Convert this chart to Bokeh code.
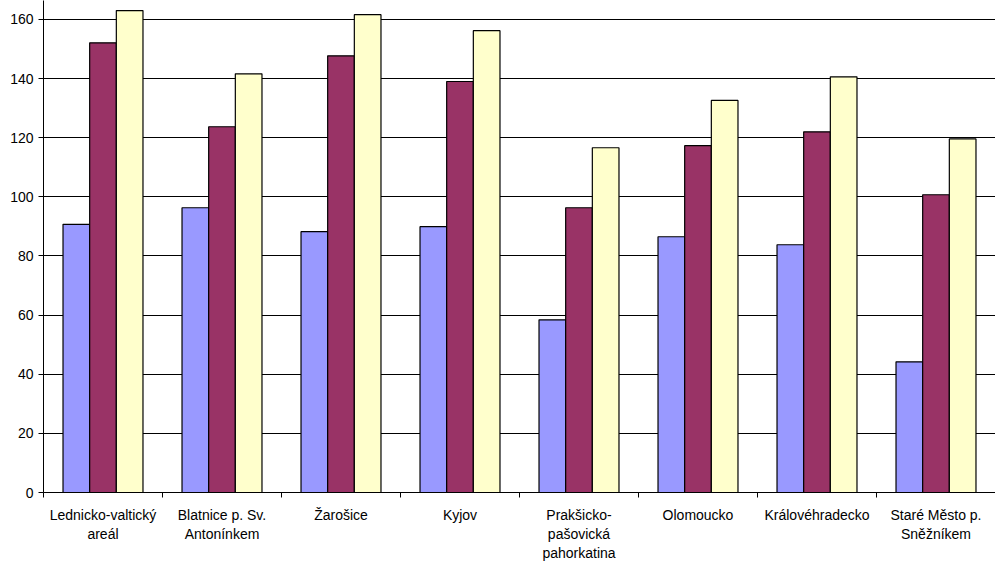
from bokeh.plotting import figure
from bokeh.models import ColumnDataSource, FixedTicker, Range1d
from bokeh.embed import file_html
from bokeh.resources import INLINE

categories = ["Lednicko-valtický\nareál", "Blatnice p. Sv.\nAntonínkem", "Žarošice", "Kyjov",
              "Prakšicko-\npašovická\npahorkatina", "Olomoucko", "Královéhradecko",
              "Staré Město p.\nSněžníkem"]
series1 = [90.7, 96.3, 88.2, 89.9, 58.4, 86.5, 83.8, 44.2]
series2 = [152.1, 123.7, 147.7, 139.0, 96.3, 117.3, 122.0, 100.7]
series3 = [163.0, 141.6, 161.6, 156.2, 116.6, 132.6, 140.6, 119.6]
colors = ["#9999FF", "#993366", "#FFFFCC"]
y_ticks = [0, 20, 40, 60, 80, 100, 120, 140, 160]

n = len(categories)
p = figure(width=995, height=567, output_backend="svg", toolbar_location=None,
           x_range=Range1d(0, n), y_range=Range1d(0, 166.4),
           min_border_left=43, min_border_right=0, min_border_top=0, min_border_bottom=75)
p.outline_line_color = None
p.background_fill_color = "white"
p.border_fill_color = "white"

bw = 0.224
for k, (vals, c) in enumerate(zip([series1, series2, series3], colors)):
    xs = [i + 0.5 + (k - 1) * bw for i in range(n)]
    src = ColumnDataSource(dict(x=xs, top=vals))
    p.vbar(x="x", top="top", bottom=0, width=bw, source=src, fill_color=c,
           line_color="black", line_width=1.2)

p.xgrid.visible = False
p.ygrid.grid_line_color = "black"
p.ygrid.grid_line_width = 1
p.ygrid.ticker = FixedTicker(ticks=y_ticks[1:])

ya = p.yaxis[0]
ya.ticker = FixedTicker(ticks=y_ticks)
ya.axis_line_color = "black"
ya.major_tick_line_color = "black"
ya.major_tick_out = 5
ya.major_tick_in = 0
ya.minor_tick_line_color = None
ya.major_label_text_font = "Liberation Sans"
ya.major_label_text_font_size = "14px"
ya.major_label_text_color = "black"
ya.major_label_standoff = 5

xa = p.xaxis[0]
xa.ticker = FixedTicker(ticks=[i + 0.5 for i in range(n)], minor_ticks=list(range(n + 1)))
xa.major_label_overrides = {i + 0.5: categories[i] for i in range(n)}
xa.axis_line_color = "black"
xa.major_tick_line_color = None
xa.minor_tick_line_color = "black"
xa.minor_tick_out = 5
xa.minor_tick_in = 0
xa.major_label_text_font = "Liberation Sans"
xa.major_label_text_font_size = "14px"
xa.major_label_text_color = "black"
xa.major_label_standoff = 8

open("out.html", "w").write(file_html(p, INLINE))
